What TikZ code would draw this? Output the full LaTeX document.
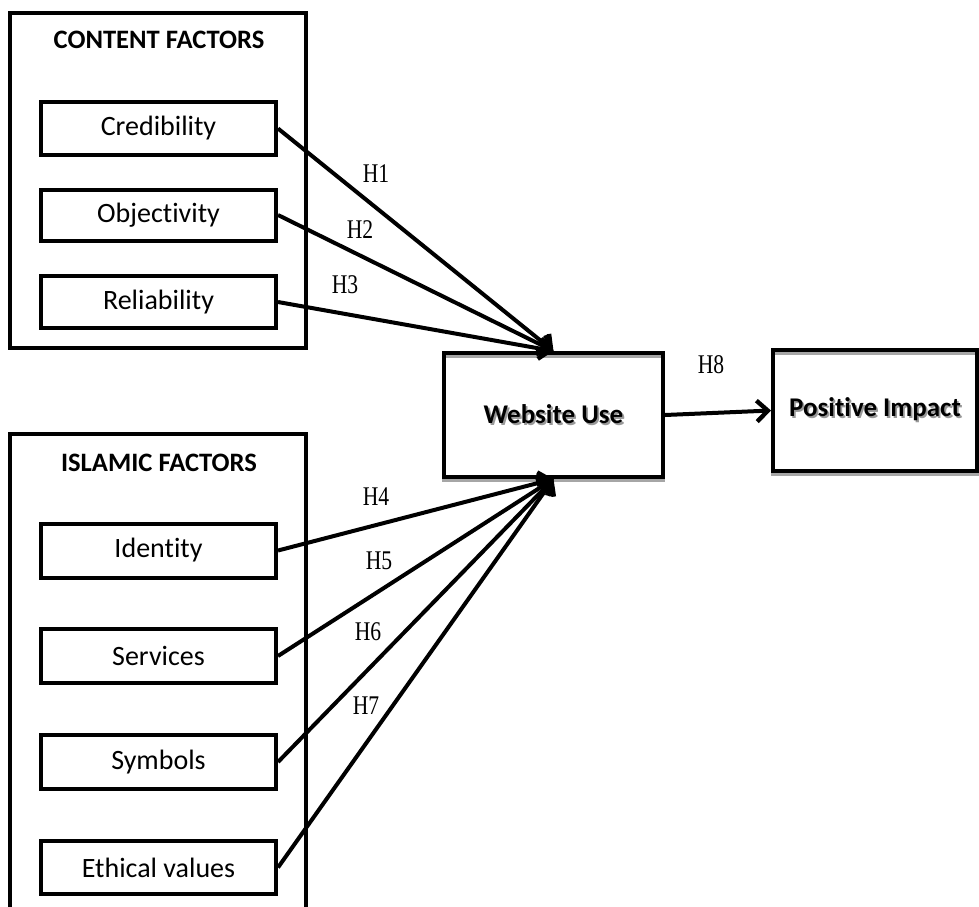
\documentclass[tikz,border=0pt]{standalone}
\usepackage{fontspec}
\usepackage{graphicx}
\setmainfont{Carlito}[Ligatures={NoCommon}]
\newfontfamily\hfont{Liberation Serif}
\usetikzlibrary{arrows.meta}
\newcommand\shtext[1]{\makebox[0pt][l]{\hspace{0.9pt}\raisebox{-1.1pt}{\color{black!40}#1}}#1}
\newcommand\hl[1]{\scalebox{0.8}[1]{#1}}
\tikzset{
  box/.style={draw, line width=2pt, fill=white, font=\fontsize{14}{16}\selectfont, inner sep=0pt},
  grp/.style={draw, line width=2pt, inner sep=0pt},
  ttl/.style={font=\fontsize{13.3}{16}\selectfont\bfseries, inner sep=0pt},
  hlab/.style={font=\hfont\fontsize{13.5}{15}\selectfont, inner sep=0pt},
  arr/.style={line width=2pt, -{Straight Barb[length=5.5pt, width=10.5pt, line width=2.2pt]}},
}
\begin{document}
\begin{tikzpicture}[x=0.5pt, y=-0.5pt]
\useasboundingbox (0,0) rectangle (979,906);
\clip (0,0) rectangle (979,906);
% groups
\node[grp, minimum width=148pt, minimum height=167.5pt] (cg) at (158,180.5) {};
\node[ttl] (ct) at (159,40) {CONTENT FACTORS};
\node[grp, minimum width=148pt, minimum height=250pt] (ig) at (158,684) {};
\node[ttl] (it) at (159,463) {ISLAMIC FACTORS};
% factor boxes
\node[box, minimum width=117.5pt, minimum height=26.5pt] (cred) at (158.5,128.5) {Credibility};
\node[box, minimum width=117.5pt, minimum height=25.5pt] (obj) at (158.5,215) {Objectivity};
\node[box, minimum width=117.5pt, minimum height=26pt] (rel) at (158.5,302) {Reliability};
\node[box, minimum width=117.5pt, minimum height=27pt] (ide) at (158.5,550.5) {Identity};
\node[box, minimum width=117.5pt, minimum height=27pt] (ser) at (158.5,656) {Services};
\node[box, minimum width=117.5pt, minimum height=27pt] (sym) at (158.5,762) {Symbols};
\node[box, minimum width=117.5pt, minimum height=26.5pt] (eth) at (158.5,867.5) {Ethical values};
% shadows of main boxes
\draw[black!35, line width=2pt] (444,356) rectangle (663,480);
\draw[black!35, line width=2pt] (773,353) rectangle (979,474);
% main boxes
\node[box, fill=none, font=\fontsize{13.5}{16}\selectfont\bfseries, minimum width=109.5pt, minimum height=62pt] (web) at (553.5,415) {\shtext{Website Use}};
\node[box, fill=none, font=\fontsize{13.5}{16}\selectfont\bfseries, minimum width=102pt, minimum height=60.5pt] (pos) at (875,410.5) {\shtext{Positive Impact}};
% arrows
\draw[arr] (cred.east) -- (web.north);
\draw[arr] (obj.east) -- (web.north);
\draw[arr] (rel.east) -- (web.north);
\draw[arr] (ide.east) -- (web.south);
\draw[arr] (ser.east) -- (web.south);
\draw[arr] (sym.east) -- (web.south);
\draw[arr] (eth.east) -- (web.south);
\draw[arr] (web.east) -- (pos.west);
% labels
\node[hlab] (h1) at (376,174) {\hl{H1}};
\node[hlab] (h2) at (360,229.5) {\hl{H2}};
\node[hlab] (h3) at (345,285) {\hl{H3}};
\node[hlab] (h4) at (376,497) {\hl{H4}};
\node[hlab] (h5) at (379,561) {\hl{H5}};
\node[hlab] (h6) at (368,632) {\hl{H6}};
\node[hlab] (h7) at (366,706) {\hl{H7}};
\node[hlab] (h8) at (711,365) {\hl{H8}};
\end{tikzpicture}
\end{document}
